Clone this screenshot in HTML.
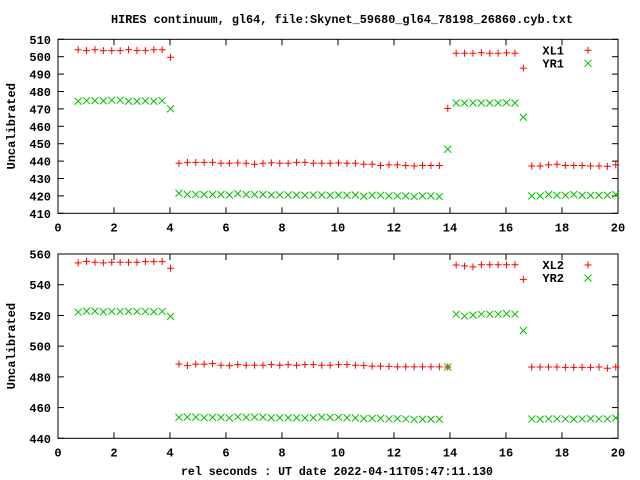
<!DOCTYPE html>
<html><head><meta charset="utf-8"><style>
html,body{margin:0;padding:0;background:#fff;}
svg{display:block;font-family:"Liberation Mono",monospace;font-weight:bold;}
</style></head><body>
<svg id="chart" width="640" height="480" viewBox="0 0 640 480" xmlns="http://www.w3.org/2000/svg">
<rect width="640" height="480" fill="#fff"/>
<text x="111" y="23" font-size="11.7" textLength="462" lengthAdjust="spacingAndGlyphs">HIRES continuum, gl64, file:Skynet_59680_gl64_78198_26860.cyb.txt</text>
<text x="181" y="475" font-size="12" textLength="312" lengthAdjust="spacingAndGlyphs">rel seconds : UT date 2022-04-11T05:47:11.130</text>
<g id="p1"></g>
<g id="p2"></g>
</svg>
<script>
const times = [];
for (let i = 0; i < 65; i++) times.push(+(0.72 + 0.3 * i).toFixed(2));
const xTicks = [0,2,4,6,8,10,12,14,16,18,20];
const xl1 = [504,503.5,504,503.5,503.5,503.5,504,503.5,503.5,504,504,499.7,
 438.8,439.3,439.3,439.3,439.3,438.8,438.8,439,438.8,438.2,438.8,439,438.8,438.8,439.3,439.3,438.8,438.8,438.8,439,438.8,438.8,438.2,438.2,437.5,437.8,437.8,437.5,437.2,437.5,437.5,437.5,
 470.3,502,502,502,502.3,502,502,502.2,502,493.4,
 437.2,437.2,437.8,438.2,437.5,437.5,437.5,437.2,437.2,437,437.8];
const yr1 = [474.4,474.8,474.8,474.6,475,475,474.4,474.4,474.6,474.4,474.8,470.1,
 421.5,420.8,420.8,420.8,420.8,420.8,420.5,421.3,420.8,420.8,420.8,420.5,420.5,420.5,420.5,420.3,420.5,420.5,420.3,420.5,420.3,420.5,419.8,420.3,420.3,420,420,420,419.6,420,420,419.6,
 446.8,473.4,473.4,473.4,473.4,473.4,473.4,473.6,473.4,465.2,
 420,420,420.8,420.3,420.3,420.8,420.3,420.3,420.3,420.3,420.8];
const xl2 = [554.2,555.2,554.6,554.2,554.6,554.6,554.6,554.6,555,555,555,550.7,
 488.3,487.3,488.3,488.3,488.6,487.6,487.3,488,487.6,487.6,487.6,488,487.6,488,487.6,488,488,487.6,487.6,488,488,487.6,487.3,487,487,486.8,486.5,486.5,486.5,486.5,486.5,486.5,
 486.4,552.8,552.2,551.6,553,553,553,553,553,543.5,
 486.4,486.4,486.4,486.4,486.2,486.2,486.2,486.2,486.4,485.6,486.4];
const yr2 = [522.2,522.8,522.8,522.4,522.6,522.6,522.6,522.6,522.6,522.4,522.6,519.4,
 453.6,453.8,453.8,453.4,453.6,453.6,453.2,454,453.6,453.8,453.8,453.4,453.4,453.4,453.4,453.2,453.4,453.8,453.6,453.6,453.4,453.2,452.8,453,453,452.6,452.8,452.6,452.2,452.4,452.4,452.4,
 486.4,520.8,519.6,520.2,520.8,520.8,520.8,521.2,520.8,510.1,
 452.6,452.4,452.6,452.6,452.6,452.4,452.6,452.8,452.6,452.6,453.2];
const yTicks1 = [410,420,430,440,450,460,470,480,490,500,510];
const yTicks2 = [440,460,480,500,520,540,560];
const names1 = ['XL1','YR1'], names2 = ['XL2','YR2'];

const NS = 'http://www.w3.org/2000/svg';
function mk(parent, tag, attrs) {
  const e = document.createElementNS(NS, tag);
  for (const k in attrs) e.setAttribute(k, attrs[k]);
  parent.appendChild(e);
  return e;
}
const X0 = 58, X1 = 618;
function xs(v) { return X0 + (v - 0) / 20 * (X1 - X0); }

function drawPanel(g, top, bottom, yMin, yMax, yTicks, s1, s2, names) {
  const ys = v => bottom - (v - yMin) / (yMax - yMin) * (bottom - top);
  const fr = mk(g, 'rect', {x: X0, y: top, width: X1 - X0, height: bottom - top, fill: 'none', stroke: '#000', 'stroke-width': 1});
  
  
  yTicks.forEach(t => {
    const y = ys(t);
    mk(g, 'line', {x1: X0, x2: X0 + 6, y1: y, y2: y, stroke: '#000'});
    mk(g, 'line', {x1: X1, x2: X1 - 6, y1: y, y2: y, stroke: '#000'});
    const tx = mk(g, 'text', {x: 51, y: y + 4.5, 'font-size': 12, 'text-anchor': 'end'});
    
    
    tx.textContent = t;
  });
  xTicks.forEach(t => {
    const x = xs(t);
    mk(g, 'line', {x1: x, x2: x, y1: bottom, y2: bottom - 6, stroke: '#000'});
    mk(g, 'line', {x1: x, x2: x, y1: top, y2: top + 6, stroke: '#000'});
    const tx = mk(g, 'text', {x: x, y: bottom + 18, 'font-size': 12, 'text-anchor': 'middle'});
    
    
    tx.textContent = t;
  });
  const yt = mk(g, 'text', {x: 0, y: 0, 'font-size': 12, 'text-anchor': 'middle', transform: `translate(15,${(top + bottom) / 2}) rotate(-90)`});
  
  
  yt.textContent = 'Uncalibrated';
  function plus(x, y, name) {
    const p = mk(g, 'path', {d: `M${x-3.5},${y}H${x+3.5}M${x},${y-3.5}V${y+3.5}`, stroke: '#ff0000', 'stroke-width': 1, fill: 'none'});
    
    
  }
  function cross(x, y, name) {
    const p = mk(g, 'path', {d: `M${x-3.5},${y-3.5}L${x+3.5},${y+3.5}M${x-3.5},${y+3.5}L${x+3.5},${y-3.5}`, stroke: '#00c000', 'stroke-width': 1, fill: 'none'});
    
    
  }
  times.forEach((t, i) => {
    plus(xs(t), ys(s1[i]), 'point-' + names[0].toLowerCase());
    cross(xs(t), ys(s2[i]), 'point-' + names[1].toLowerCase());
  });
  [0, 1].forEach(k => {
    const ly = top + 11 + k * 13;
    const lt = mk(g, 'text', {x: 564, y: ly + 4, 'font-size': 12, 'text-anchor': 'end'});
    
    
    lt.textContent = names[k];
    if (k === 0) plus(588, ly, 'legend-marker'); else cross(588, ly, 'legend-marker');
  });
}
drawPanel(document.getElementById('p1'), 39.3, 213.3, 410, 510, yTicks1, xl1, yr1, names1);
drawPanel(document.getElementById('p2'), 254, 438.3, 440, 560, yTicks2, xl2, yr2, names2);
</script>
</body></html>
